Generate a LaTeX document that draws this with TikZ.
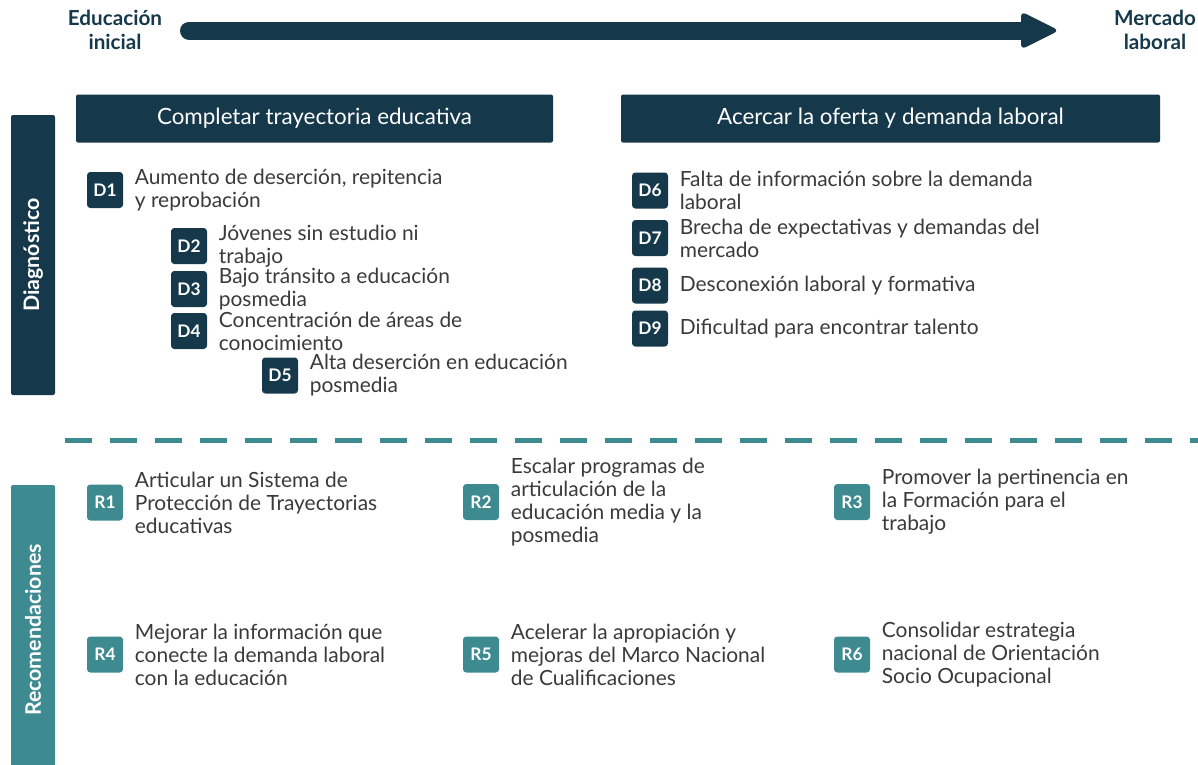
\documentclass[tikz,border=0pt]{standalone}
\usepackage{fontspec}
\setmainfont{Lato}
\usetikzlibrary{positioning}

\definecolor{diagblue}{HTML}{15384B}
\definecolor{recteal}{HTML}{3E8A91}
\definecolor{txtgray}{HTML}{3A3A3A}

\begin{document}
\begin{tikzpicture}[
    % GLOBAL CFG
    x=0.75pt, y=-0.75pt,
    font=\fontsize{15.7}{17.25}\selectfont,
    node distance=8.5pt,
    % Styles
    badge/.style={% For the D boxes
        rectangle,
        rounded corners=2.5pt,
        fill=diagblue,
        text=white,
        font=\fontsize{13}{14}\selectfont\bfseries,
        minimum width=27pt,
        minimum height=27pt,
        inner sep=0pt,
        },
    rbadge/.style={% For the R boxes
        badge,
        fill=recteal,
        },
    item/.style={% Text next to a box
        text=txtgray,
        align=left,
        anchor=west,
        inner sep=0pt,
        },
    header/.style={% Title bars
        rectangle,
        rounded corners=1.5pt,
        fill=diagblue,
        text=white,
        font=\fontsize{16.8}{18}\selectfont,
        minimum height=36pt,
        },
    sidebar/.style={% Vertical bars on the left
        rectangle,
        rounded corners=1.5pt,
        fill=diagblue,
        text=white,
        font=\fontsize{16}{18}\selectfont\bfseries,
        minimum height=33pt,
        rotate=90,
        },
    endlabel/.style={% Ends of the timeline
        text=diagblue,
        font=\fontsize{15.5}{18}\selectfont\bfseries,
        align=center,
        },
    timeline/.style={% The big arrow
        diagblue,
        line width=13.5pt,
        line cap=round,
        },
    sepline/.style={% Dashed separator
        recteal,
        line width=3.75pt,
        dash pattern=on 20.25pt off 13.5pt,
        },
    ]

    \useasboundingbox (0,0) rectangle (1198,764);

%Start drawing the thing...
    % Timeline on top
    \node[endlabel] (edu) at (115,30) {Educación\\inicial};
    \node[endlabel] (mer) at (1155,30) {Mercado\\laboral};
    \coordinate (tl_start) at (189,30.5);
    \coordinate (tl_end) at (1030,30.5);
    \draw[timeline] (tl_start) -- (tl_end);
    \fill[diagblue, rounded corners=4pt] (1021,30.5) -- (1021,11.5) -- (1059,30.5) -- (1021,49.5) -- cycle;

    % Side bars
    \node[sidebar, minimum width=210pt] (diag) at (33,255) {Diagnóstico};
    \node[sidebar, fill=recteal, minimum width=217.5pt] (recom) at (33,630) {Recomendaciones};

    % Headers
    \node[header, minimum width=357.75pt] (h_tray) at (314.5,118.5) {Completar trayectoria educativa};
    \node[header, minimum width=404.25pt] (h_lab) at (890.5,118.5) {Acercar la oferta y demanda laboral};

    % Diagnostico, left column
    \node[badge] (d1) at (105,190) {D1};
    \node[item, right=of d1] (d1_t) {Aumento de deserción, repitencia\\y reprobación};
    \node[badge] (d2) at (189,246) {D2};
    \node[item, right=of d2] (d2_t) {Jóvenes sin estudio ni\\trabajo};
    \node[badge] (d3) at (189,289) {D3};
    \node[item, right=of d3] (d3_t) {Bajo tránsito a educación\\posmedia};
    \node[badge] (d4) at (189,331) {D4};
    \node[item, right=of d4] (d4_t) {Concentración de áreas de\\conocimiento};
    \node[badge] (d5) at (280,375.5) {D5};
    \node[item, right=of d5] (d5_t) {Alta deserción en educación\\posmedia};

    % Diagnostico, right column
    \node[badge] (d6) at (650,190.5) {D6};
    \node[item, right=of d6] (d6_t) {Falta de información sobre la demanda\\laboral};
    \node[badge] (d7) at (650,238) {D7};
    \node[item, right=of d7] (d7_t) {Brecha de expectativas y demandas del\\mercado};
    \node[badge] (d8) at (650,285.5) {D8};
    \node[item, right=of d8] (d8_t) {Desconexión laboral y formativa};
    \node[badge] (d9) at (650,328.5) {D9};
    \node[item, right=of d9] (d9_t) {Dificultad para encontrar talento};

    % Separator
    \coordinate (sep_l) at (65,440.5);
    \coordinate (sep_r) at (1198,440.5);
    \draw[sepline] (sep_l) -- (sep_r);

    % Recomendaciones
    \newcommand{\rowgap}{152}
    \node[rbadge] (r1) at (105,502.5) {R1};
    \node[item, right=of r1] (r1_t) {Articular un Sistema de\\Protección de Trayectorias\\educativas};
    \node[rbadge] (r2) at (481,502) {R2};
    \node[item, right=of r2] (r2_t) {Escalar programas de\\articulación de la\\educación media y la\\posmedia};
    \node[rbadge] (r3) at (852,502) {R3};
    \node[item, right=of r3] (r3_t) {Promover la pertinencia en\\la Formación para el\\trabajo};
    \node[rbadge] (r4) at (105,502.5+\rowgap) {R4};
    \node[item, right=of r4] (r4_t) {Mejorar la información que\\conecte la demanda laboral\\con la educación};
    \node[rbadge] (r5) at (481,502.5+\rowgap) {R5};
    \node[item, right=of r5] (r5_t) {Acelerar la apropiación y\\mejoras del Marco Nacional\\de Cualificaciones};
    \node[rbadge] (r6) at (852,502.5+\rowgap) {R6};
    \node[item, right=of r6] (r6_t) {Consolidar estrategia\\nacional de Orientación\\Socio Ocupacional};

\end{tikzpicture}
\end{document}
